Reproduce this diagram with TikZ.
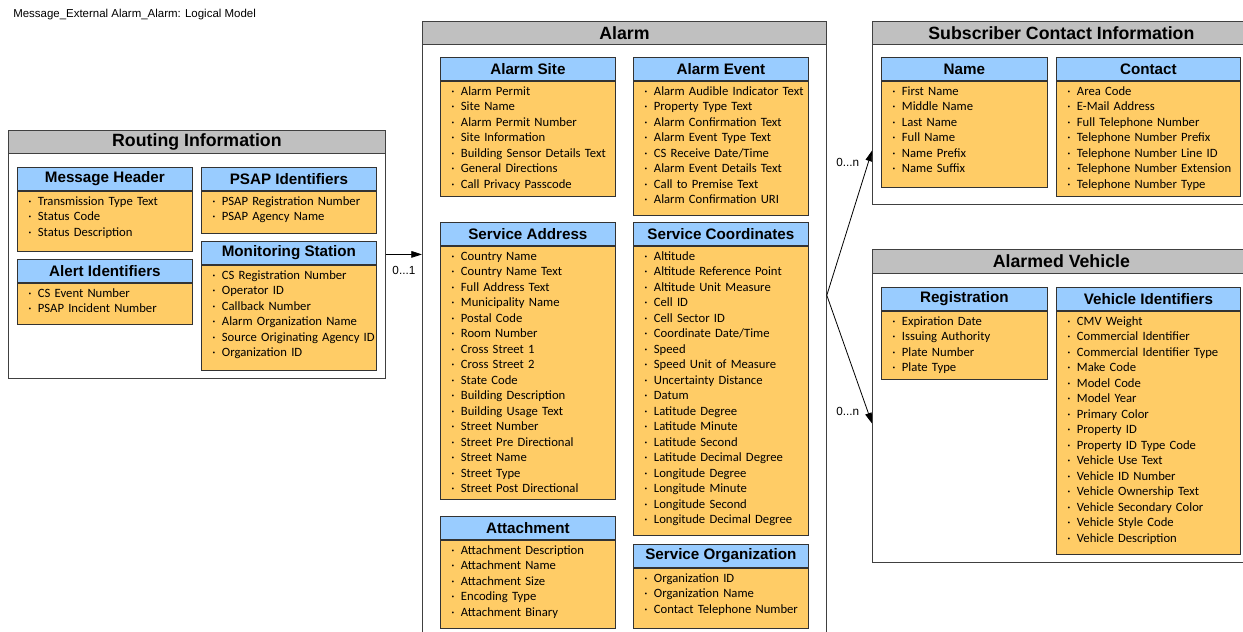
\documentclass[tikz,border=0pt]{standalone}
\usepackage{fontspec}
\setmainfont{Carlito}
\newfontfamily\arialfont{Liberation Sans}
\usepackage{tikz}
\usetikzlibrary{arrows.meta, positioning, calc}

\definecolor{headgray}{HTML}{C0C0C0}
\definecolor{headblue}{HTML}{99CCFF}
\definecolor{bodyorange}{HTML}{FFCC66}

\begin{document}
\begin{tikzpicture}[x=0.75pt, y=-0.75pt]
	\tikzstyle{frame} = [rectangle, draw=black!75, line width=0.6pt, inner sep=0pt, anchor=north west]
	\tikzstyle{bighead} = [rectangle, draw=black!75, fill=headgray, line width=0.6pt, inner sep=0pt, 
	anchor=north west, minimum height=17.25pt, font=\arialfont\bfseries\fontsize{13.3}{15}\selectfont]
	\tikzstyle{head} = [rectangle, draw=black!80, fill=headblue, line width=0.6pt, inner sep=0pt, 
	anchor=north west, minimum height=17.25pt, font=\arialfont\bfseries\fontsize{11.4}{13}\selectfont]
	\tikzstyle{body} = [rectangle, draw=black!80, fill=bodyorange, line width=0.6pt, anchor=north west, 
	inner xsep=8.25pt, inner ysep=0pt, text height=10.5pt, align=left, font=\fontsize{9.5}{11.625}\selectfont]
	\tikzstyle{w175} = [minimum width=131.25pt]
	\tikzstyle{w166} = [minimum width=124.5pt]
	\tikzstyle{w184} = [minimum width=138pt]
	\tikzstyle{t175} = [text width=114.75pt]
	\tikzstyle{t166} = [text width=108pt]
	\tikzstyle{t184} = [text width=121.5pt]
	\tikzstyle{card} = [font=\arialfont\fontsize{8.8}{10}\selectfont]
	\tikzstyle{arrow} = [line width=0.6pt, -{Triangle[length=8pt, width=5pt]}]
	\useasboundingbox (0,0) rectangle (1243,632);

	\node (title) [anchor=west, font=\arialfont\fontsize{8.6}{10}\selectfont, inner sep=0pt] at (13,15) 
	{Message\_External Alarm\_Alarm: Logical Model};

	% routing information
	\node (routing) [frame, minimum width=282.75pt, minimum height=186pt] at (8,130) {};
	\node (routingHead) [bighead, minimum width=282.75pt] at (routing.north west) {Routing Information};
	\node (msgHeaderHead) [head, w175] at (17,167) {Message Header};
	\node (msgHeader) [body, t175, text depth=34.5pt] at (msgHeaderHead.south west) {\begin{tabular}[t]{@{}l@{}}
	·\enspace Transmission Type Text\\ ·\enspace Status Code\\ ·\enspace Status Description\end{tabular}};
	\node (psapIdsHead) [head, w175] at (201,167) {PSAP Identifiers};
	\node (psapIds) [body, t175, text depth=21pt] at (psapIdsHead.south west) {\begin{tabular}[t]{@{}l@{}}
	·\enspace PSAP Registration Number\\ ·\enspace PSAP Agency Name\end{tabular}};
	\node (alertIdsHead) [head, w175] at (17,259) {Alert Identifiers};
	\node (alertIds) [body, t175, text depth=20.25pt] at (alertIdsHead.south west) {\begin{tabular}[t]{@{}l@{}}
	·\enspace CS Event Number\\ ·\enspace PSAP Incident Number\end{tabular}};
	\node (monStationHead) [head, w175] at (201,241) {Monitoring Station};
	\node (monStation) [body, t175, text depth=68.25pt] at (monStationHead.south west) {\begin{tabular}[t]{@{}l@{}}
	·\enspace CS Registration Number\\ ·\enspace Operator ID\\ ·\enspace Callback Number\\ 
	·\enspace Alarm Organization Name\\ ·\enspace Source Originating Agency ID\\ ·\enspace Organization ID\end{tabular}};

	% alarm
	\node (alarm) [frame, minimum width=303pt, minimum height=468pt] at (422,21) {};
	\node (alarmHead) [bighead, minimum width=303pt] at (alarm.north west) {Alarm};
	\node (alarmSiteHead) [head, w175] at (440,57) {Alarm Site};
	\node (alarmSite) [body, t175, text depth=75.75pt] at (alarmSiteHead.south west) {\begin{tabular}[t]{@{}l@{}}
	·\enspace Alarm Permit\\ ·\enspace Site Name\\ ·\enspace Alarm Permit Number\\ ·\enspace Site Information\\ 
	·\enspace Building Sensor Details Text\\ ·\enspace General Directions\\ ·\enspace Call Privacy Passcode\end{tabular}};
	\node (alarmEventHead) [head, w175] at (633,57) {Alarm Event};
	\node (alarmEvent) [body, t175, text depth=90pt] at (alarmEventHead.south west) {\begin{tabular}[t]{@{}l@{}}
	·\enspace Alarm Audible Indicator Text\\ ·\enspace Property Type Text\\ ·\enspace Alarm Confirmation Text\\ 
	·\enspace Alarm Event Type Text\\ ·\enspace CS Receive Date/Time\\ ·\enspace Alarm Event Details Text\\ 
	·\enspace Call to Premise Text\\ ·\enspace Alarm Confirmation URI\end{tabular}};
	\node (servAddressHead) [head, w175] at (440,222) {Service Address};
	\node (servAddress) [body, t175, text depth=179.25pt] at (servAddressHead.south west) {\begin{tabular}[t]{@{}l@{}}
	·\enspace Country Name\\ ·\enspace Country Name Text\\ ·\enspace Full Address Text\\ ·\enspace Municipality Name\\ 
	·\enspace Postal Code\\ ·\enspace Room Number\\ ·\enspace Cross Street 1\\ ·\enspace Cross Street 2\\ 
	·\enspace State Code\\ ·\enspace Building Description\\ ·\enspace Building Usage Text\\ ·\enspace Street Number\\ 
	·\enspace Street Pre Directional\\ ·\enspace Street Name\\ ·\enspace Street Type\\ ·\enspace Street Post Directional\end{tabular}};
	\node (servCoordsHead) [head, w175] at (633,222) {Service Coordinates};
	\node (servCoords) [body, t175, text depth=206.25pt] at (servCoordsHead.south west) {\begin{tabular}[t]{@{}l@{}}
	·\enspace Altitude\\ ·\enspace Altitude Reference Point\\ ·\enspace Altitude Unit Measure\\ ·\enspace Cell ID\\ 
	·\enspace Cell Sector ID\\ ·\enspace Coordinate Date/Time\\ ·\enspace Speed\\ ·\enspace Speed Unit of Measure\\ 
	·\enspace Uncertainty Distance\\ ·\enspace Datum\\ ·\enspace Latitude Degree\\ ·\enspace Latitude Minute\\ 
	·\enspace Latitude Second\\ ·\enspace Latitude Decimal Degree\\ ·\enspace Longitude Degree\\ 
	·\enspace Longitude Minute\\ ·\enspace Longitude Second\\ ·\enspace Longitude Decimal Degree\end{tabular}};
	\node (attachmentHead) [head, w175] at (440,516) {Attachment};
	\node (attachment) [body, t175, text depth=55.5pt] at (attachmentHead.south west) {\begin{tabular}[t]{@{}l@{}}
	·\enspace Attachment Description\\ ·\enspace Attachment Name\\ ·\enspace Attachment Size\\ 
	·\enspace Encoding Type\\ ·\enspace Attachment Binary\end{tabular}};
	\node (servOrgHead) [head, w175] at (633,544) {Service Organization};
	\node (servOrg) [body, t175, text depth=34.5pt] at (servOrgHead.south west) {\begin{tabular}[t]{@{}l@{}}
	·\enspace Organization ID\\ ·\enspace Organization Name\\ ·\enspace Contact Telephone Number\end{tabular}};

	% subscriber contact information
	\node (subscriber) [frame, minimum width=283.5pt, minimum height=137.25pt] at (872,21) {};
	\node (subscriberHead) [bighead, minimum width=283.5pt] at (subscriber.north west) {Subscriber Contact Information};
	\node (nameHead) [head, w166] at (881,57) {Name};
	\node (name) [body, t166, text depth=69pt] at (nameHead.south west) {\begin{tabular}[t]{@{}l@{}}
	·\enspace First Name\\ ·\enspace Middle Name\\ ·\enspace Last Name\\ ·\enspace Full Name\\ 
	·\enspace Name Prefix\\ ·\enspace Name Suffix\end{tabular}};
	\node (contactHead) [head, w184] at (1056,57) {Contact};
	\node (contact) [body, t184, text depth=75.75pt] at (contactHead.south west) {\begin{tabular}[t]{@{}l@{}}
	·\enspace Area Code\\ ·\enspace E-Mail Address\\ ·\enspace Full Telephone Number\\ ·\enspace Telephone Number Prefix\\ 
	·\enspace Telephone Number Line ID\\ ·\enspace Telephone Number Extension\\ ·\enspace Telephone Number Type\end{tabular}};

	% alarmed vehicle
	\node (vehicle) [frame, minimum width=283.5pt, minimum height=234.75pt] at (872,249) {};
	\node (vehicleHead) [bighead, minimum width=283.5pt, minimum height=18pt] at (vehicle.north west) {Alarmed Vehicle};
	\node (registrationHead) [head, w166] at (881,287) {Registration};
	\node (registration) [body, t166, text depth=40.5pt] at (registrationHead.south west) {\begin{tabular}[t]{@{}l@{}}
	·\enspace Expiration Date\\ ·\enspace Issuing Authority\\ ·\enspace Plate Number\\ ·\enspace Plate Type\end{tabular}};
	\node (vehicleIdsHead) [head, w184] at (1056,287) {Vehicle Identifiers};
	\node (vehicleIds) [body, t184, text depth=171.75pt] at (vehicleIdsHead.south west) {\begin{tabular}[t]{@{}l@{}}
	·\enspace CMV Weight\\ ·\enspace Commercial Identifier\\ ·\enspace Commercial Identifier Type\\ ·\enspace Make Code\\ 
	·\enspace Model Code\\ ·\enspace Model Year\\ ·\enspace Primary Color\\ ·\enspace Property ID\\ 
	·\enspace Property ID Type Code\\ ·\enspace Vehicle Use Text\\ ·\enspace Vehicle ID Number\\ 
	·\enspace Vehicle Ownership Text\\ ·\enspace Vehicle Secondary Color\\ ·\enspace Vehicle Style Code\\ 
	·\enspace Vehicle Description\end{tabular}};

	% connectors
	\coordinate (fork) at ($(alarm.north east)!0.439!(alarm.south east)$);
	\draw [arrow] (routing.east) -- (routing.east -| alarm.west) node [midway, below=5pt, card] {0...1};
	\draw [arrow] (fork) -- ($(subscriber.north west)!0.705!(subscriber.south west)$) 
	node [pos=1, below left=2pt and 6pt, card] {0...n};
	\draw [arrow] (fork) -- ($(vehicle.north west)!0.556!(vehicle.south west)$) 
	node [pos=1, above left=2pt and 6pt, card] {0...n};
\end{tikzpicture}
\end{document}
